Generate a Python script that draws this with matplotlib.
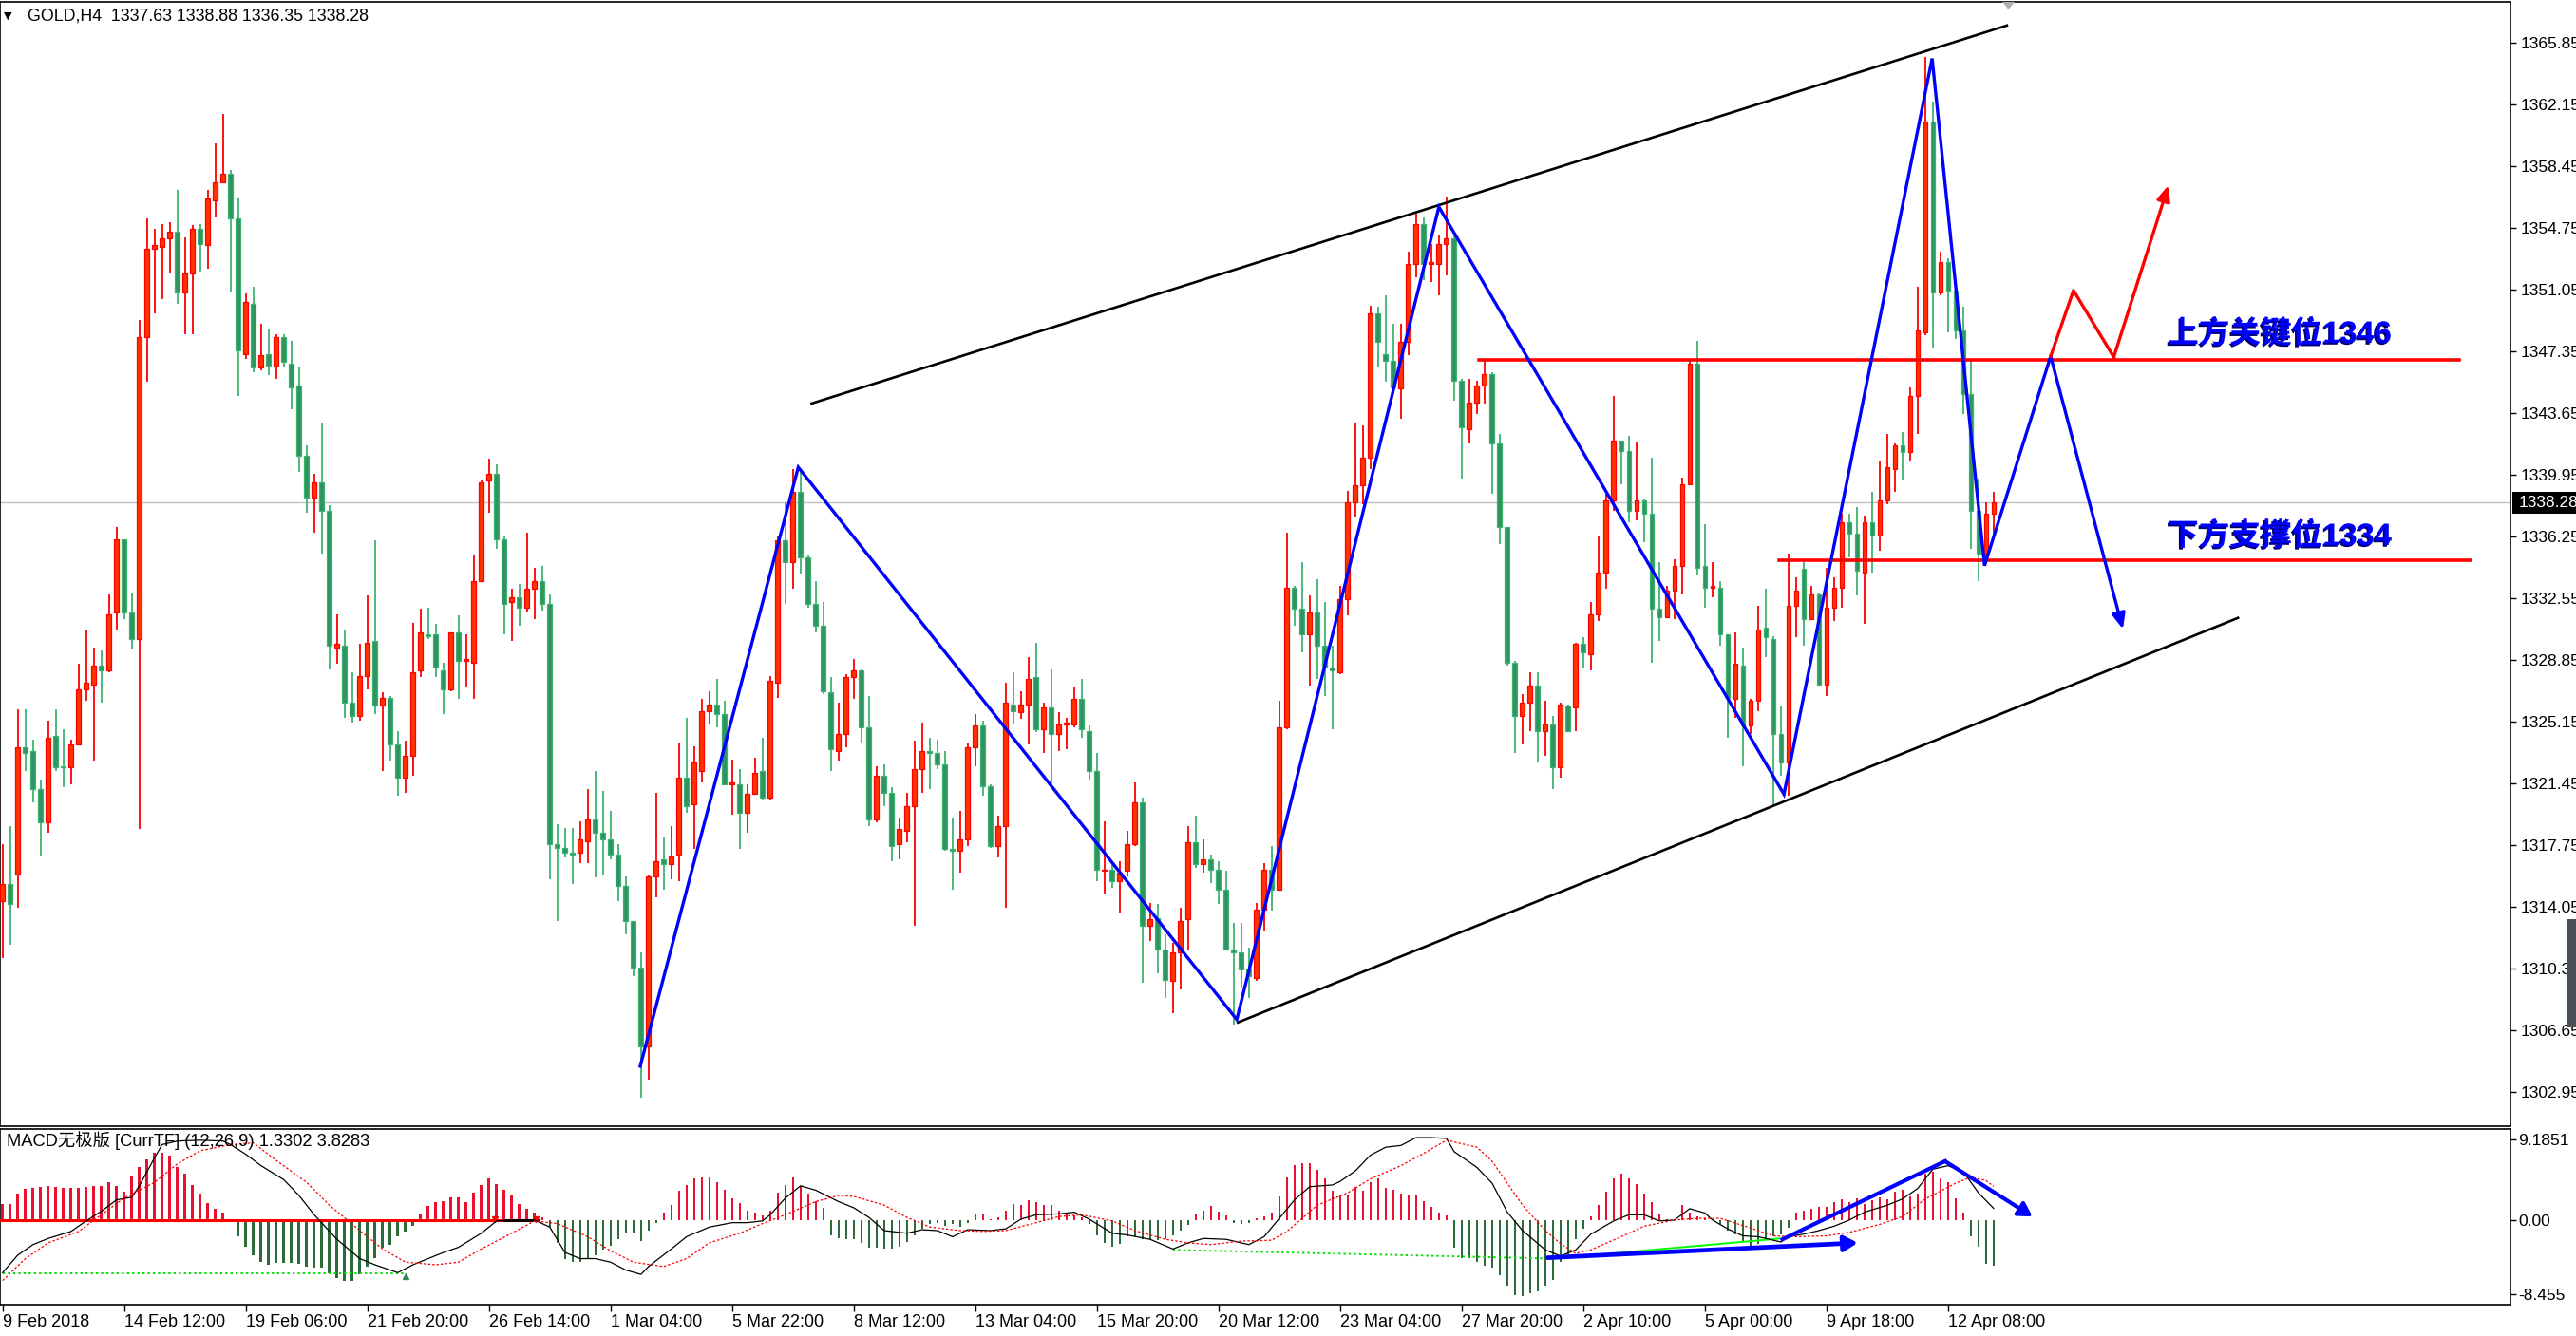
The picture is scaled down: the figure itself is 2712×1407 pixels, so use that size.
import matplotlib
matplotlib.use('Agg')
import matplotlib.pyplot as plt
import matplotlib.patheffects as pe
from matplotlib.patches import Rectangle, Polygon
import numpy as np

plt.rcParams['font.family'] = ['Liberation Sans', 'Noto Sans CJK SC', 'DejaVu Sans']

W, H, DPI = 2712, 1407, 100

# ---------------- data (GOLD H4 candles) ----------------
opens = [1314.4, 1315.4, 1316.0, 1323.6, 1323.4, 1321.1, 1319.1, 1324.3, 1322.5, 1322.4,
         1323.8, 1327.1, 1327.4, 1328.5, 1328.2, 1331.7, 1336.1, 1331.7, 1330.1, 1348.2,
         1353.5, 1353.6, 1354.1, 1354.5, 1350.9, 1352.0, 1354.7, 1353.7, 1356.4, 1357.5,
         1358.0, 1355.3, 1347.2, 1350.2, 1346.4, 1347.2, 1346.5, 1348.2, 1346.6, 1345.3,
         1341.1, 1338.6, 1339.5, 1337.8, 1329.6, 1329.7, 1326.3, 1325.5, 1327.9, 1330.0,
         1326.1, 1326.6, 1323.8, 1321.8, 1323.1, 1328.2, 1330.4, 1330.4, 1328.2, 1327.1,
         1330.5, 1328.8, 1328.7, 1333.6, 1339.6, 1340.0, 1336.1, 1332.3, 1332.6, 1332.0,
         1333.1, 1333.6, 1332.2, 1317.8, 1317.6, 1317.3, 1317.3, 1318.0, 1319.3, 1318.5,
         1318.1, 1317.2, 1315.3, 1313.2, 1310.4, 1305.7, 1315.9, 1316.9, 1316.6, 1317.2,
         1321.8, 1320.2, 1322.2, 1325.8, 1326.2, 1325.6, 1321.4, 1321.4, 1319.7, 1320.8,
         1322.2, 1320.6, 1327.5, 1336.0, 1334.7, 1338.9, 1335.0, 1332.2, 1330.9, 1326.9,
         1323.4, 1324.4, 1327.8, 1328.2, 1324.8, 1319.3, 1321.9, 1320.9, 1317.8, 1318.6,
         1320.1, 1322.3, 1323.4, 1323.3, 1322.6, 1317.5, 1317.4, 1318.1, 1323.6, 1324.9,
         1321.3, 1317.7, 1318.9, 1326.2, 1325.7, 1326.2, 1327.8, 1324.7, 1326.0, 1324.4,
         1325.0, 1325.0, 1326.5, 1324.6, 1322.2, 1316.2, 1316.3, 1315.6, 1316.2, 1317.8,
         1320.3, 1312.9, 1313.4, 1311.5, 1309.6, 1311.3, 1313.3, 1317.9, 1316.6, 1316.9,
         1316.3, 1315.1, 1311.5, 1311.3, 1310.3, 1309.8, 1313.9, 1316.3, 1315.1, 1324.8,
         1333.2, 1331.9, 1330.4, 1331.7, 1329.7, 1328.4, 1328.1, 1332.5, 1338.3, 1339.3,
         1341.0, 1349.6, 1347.2, 1346.8, 1345.1, 1347.9, 1352.6, 1355.0, 1352.6, 1352.6,
         1353.8, 1354.1, 1345.6, 1342.7, 1344.3, 1345.3, 1346.0, 1341.8, 1336.8, 1328.7,
         1325.5, 1326.3, 1327.3, 1324.6, 1325.0, 1322.4, 1326.1, 1326.0, 1329.8, 1329.2,
         1331.6, 1334.1, 1338.4, 1342.0, 1341.4, 1337.8, 1338.4, 1337.6, 1331.9, 1331.4,
         1333.0, 1334.5, 1339.4, 1346.6, 1334.5, 1333.2, 1333.2, 1330.4, 1326.5, 1328.5,
         1324.9, 1326.4, 1330.8, 1330.1, 1324.4, 1322.7, 1332.1, 1334.3, 1331.3, 1332.8,
         1327.4, 1332.0, 1333.2, 1337.1, 1336.4, 1334.1, 1337.1, 1336.3, 1338.4, 1340.3,
         1341.7, 1341.3, 1344.7, 1348.5, 1361.1, 1350.9, 1352.7, 1351.0, 1348.6, 1344.8,
         1337.8, 1335.2, 1337.6]

highs = [1317.8, 1318.9, 1325.9, 1325.9, 1324.1, 1321.7, 1325.2, 1325.9, 1324.7, 1324.1,
         1328.6, 1330.7, 1329.6, 1329.4, 1332.8, 1336.8, 1336.1, 1332.9, 1349.2, 1355.3,
         1354.7, 1355.0, 1355.1, 1357.0, 1354.2, 1354.9, 1355.0, 1357.0, 1359.8, 1361.6,
         1358.2, 1356.5, 1350.8, 1351.2, 1349.0, 1348.7, 1348.4, 1348.4, 1348.0, 1346.4,
         1341.7, 1340.0, 1343.1, 1338.1, 1331.6, 1330.6, 1328.1, 1329.8, 1332.7, 1336.0,
         1326.9, 1326.7, 1324.6, 1324.0, 1331.1, 1331.9, 1332.0, 1331.0, 1328.7, 1330.5,
         1331.5, 1330.4, 1335.1, 1339.6, 1340.9, 1340.6, 1336.3, 1333.1, 1333.4, 1336.5,
         1334.4, 1334.5, 1332.8, 1319.0, 1318.8, 1318.8, 1319.2, 1321.1, 1322.2, 1321.0,
         1319.8, 1317.8, 1315.9, 1313.2, 1311.3, 1316.0, 1320.9, 1318.2, 1318.9, 1323.9,
         1325.4, 1323.7, 1326.5, 1327.0, 1327.7, 1326.4, 1322.9, 1322.3, 1321.4, 1323.0,
         1324.2, 1327.9, 1336.3, 1338.3, 1340.3, 1340.2, 1335.1, 1333.6, 1332.3, 1327.8,
         1326.3, 1328.0, 1328.9, 1328.3, 1326.7, 1322.5, 1322.6, 1321.2, 1319.4, 1320.9,
         1324.0, 1325.1, 1324.2, 1324.1, 1323.4, 1319.4, 1319.8, 1323.9, 1325.6, 1325.2,
         1321.4, 1319.5, 1327.5, 1328.1, 1327.0, 1329.0, 1329.9, 1326.3, 1328.3, 1325.7,
         1325.4, 1327.2, 1327.7, 1324.9, 1323.3, 1319.2, 1316.8, 1316.8, 1318.6, 1321.5,
         1320.6, 1314.3, 1314.2, 1312.4, 1311.9, 1314.0, 1318.9, 1319.5, 1318.1, 1317.2,
         1316.8, 1316.2, 1313.1, 1313.1, 1311.6, 1314.3, 1316.7, 1317.7, 1326.4, 1336.5,
         1333.3, 1334.7, 1332.7, 1333.7, 1332.3, 1329.7, 1333.3, 1339.0, 1343.1, 1342.9,
         1350.1, 1350.0, 1350.7, 1349.0, 1349.0, 1353.3, 1355.6, 1355.4, 1353.8, 1354.3,
         1356.6, 1354.3, 1345.7, 1345.7, 1345.6, 1346.9, 1346.1, 1342.4, 1336.8, 1328.8,
         1326.8, 1328.1, 1328.1, 1326.4, 1325.5, 1326.3, 1326.2, 1329.9, 1330.2, 1332.3,
         1336.3, 1338.8, 1344.7, 1342.0, 1342.3, 1341.9, 1338.5, 1341.0, 1334.7, 1333.3,
         1334.9, 1339.8, 1346.9, 1348.0, 1337.0, 1334.7, 1333.6, 1330.4, 1330.5, 1329.6,
         1326.5, 1332.1, 1333.1, 1330.3, 1326.1, 1335.2, 1333.8, 1334.7, 1333.3, 1332.9,
         1334.4, 1333.8, 1337.6, 1337.6, 1338.0, 1337.5, 1338.9, 1340.8, 1342.4, 1341.8,
         1342.5, 1345.2, 1351.2, 1365.0, 1362.3, 1353.3, 1352.9, 1351.1, 1350.0, 1346.9,
         1339.7, 1338.3, 1338.9]

lows = [1311.0, 1311.8, 1314.0, 1322.2, 1320.3, 1317.1, 1318.5, 1322.2, 1321.2, 1321.4,
        1323.8, 1326.4, 1322.8, 1326.3, 1328.1, 1330.7, 1331.3, 1329.5, 1318.7, 1345.5,
        1349.6, 1350.5, 1352.0, 1350.2, 1348.4, 1348.4, 1352.1, 1352.3, 1355.4, 1357.4,
        1350.9, 1344.7, 1346.9, 1346.1, 1346.2, 1345.9, 1345.7, 1346.4, 1343.9, 1340.1,
        1337.7, 1336.5, 1335.2, 1328.3, 1328.6, 1325.4, 1325.1, 1325.2, 1327.1, 1325.6,
        1322.2, 1322.8, 1320.7, 1320.9, 1321.9, 1327.8, 1330.1, 1327.8, 1325.6, 1327.0,
        1326.5, 1327.2, 1326.5, 1333.5, 1337.7, 1335.5, 1330.4, 1330.0, 1330.9, 1331.7,
        1331.3, 1331.8, 1315.7, 1313.2, 1317.0, 1315.4, 1316.7, 1316.7, 1315.8, 1316.0,
        1316.9, 1314.4, 1312.4, 1309.9, 1302.6, 1303.7, 1314.6, 1315.1, 1315.7, 1315.6,
        1319.7, 1317.5, 1321.5, 1325.0, 1324.8, 1321.4, 1319.6, 1317.5, 1318.5, 1320.8,
        1320.5, 1320.5, 1326.6, 1332.2, 1333.1, 1334.0, 1332.0, 1330.5, 1326.8, 1322.2,
        1322.8, 1323.6, 1326.5, 1323.9, 1318.9, 1319.1, 1320.1, 1316.8, 1316.9, 1317.9,
        1312.9, 1320.9, 1321.1, 1322.3, 1317.4, 1315.1, 1316.1, 1317.7, 1322.5, 1320.7,
        1317.6, 1317.0, 1314.0, 1325.0, 1325.3, 1323.8, 1324.5, 1323.3, 1321.4, 1323.4,
        1323.5, 1324.8, 1324.2, 1321.7, 1315.6, 1314.8, 1315.2, 1313.7, 1315.9, 1317.7,
        1309.5, 1312.0, 1310.1, 1308.6, 1307.7, 1309.1, 1311.5, 1316.4, 1316.1, 1315.5,
        1314.2, 1311.5, 1307.0, 1309.2, 1308.6, 1309.6, 1312.6, 1313.8, 1315.0, 1324.7,
        1330.9, 1329.3, 1327.3, 1327.7, 1326.7, 1324.7, 1328.0, 1331.5, 1337.4, 1338.2,
        1340.3, 1346.4, 1345.5, 1345.2, 1343.3, 1347.1, 1351.8, 1351.6, 1351.5, 1350.7,
        1351.9, 1344.4, 1339.7, 1341.8, 1343.6, 1344.2, 1338.8, 1335.8, 1328.5, 1323.3,
        1323.8, 1324.6, 1322.7, 1323.1, 1321.1, 1321.8, 1324.6, 1324.6, 1328.4, 1328.2,
        1331.2, 1333.1, 1337.8, 1339.4, 1337.1, 1337.2, 1335.9, 1328.7, 1330.0, 1331.4,
        1331.3, 1332.8, 1339.3, 1333.9, 1332.0, 1332.6, 1329.7, 1324.2, 1325.4, 1322.5,
        1324.4, 1325.8, 1329.0, 1320.1, 1321.9, 1320.7, 1330.2, 1329.7, 1331.3, 1327.3,
        1326.7, 1331.2, 1332.0, 1335.0, 1332.7, 1331.0, 1334.1, 1335.4, 1338.2, 1338.9,
        1339.6, 1340.8, 1342.4, 1348.3, 1347.5, 1350.7, 1348.5, 1348.1, 1343.6, 1335.5,
        1333.6, 1334.7, 1336.4]

closes = [1315.4, 1314.2, 1323.6, 1323.3, 1321.1, 1319.1, 1324.2, 1322.4, 1322.4, 1323.8,
          1327.1, 1327.5, 1328.5, 1328.2, 1331.6, 1336.1, 1331.7, 1330.1, 1348.2, 1353.5,
          1353.7, 1354.1, 1354.5, 1350.9, 1352.0, 1354.7, 1353.8, 1356.5, 1357.5, 1358.0,
          1355.3, 1347.4, 1350.3, 1346.4, 1347.1, 1346.5, 1348.2, 1346.7, 1345.2, 1341.1,
          1338.6, 1339.5, 1337.8, 1329.7, 1329.8, 1326.3, 1325.5, 1327.9, 1329.9, 1326.1,
          1326.6, 1323.8, 1321.8, 1323.1, 1328.1, 1330.5, 1330.3, 1328.4, 1327.1, 1330.5,
          1328.8, 1328.9, 1333.6, 1339.5, 1340.0, 1336.1, 1332.2, 1332.6, 1332.0, 1333.1,
          1333.6, 1332.2, 1317.8, 1317.6, 1317.3, 1317.2, 1318.1, 1319.3, 1318.5, 1318.1,
          1317.2, 1315.3, 1313.2, 1310.4, 1305.7, 1315.9, 1316.8, 1316.6, 1317.1, 1321.8,
          1320.1, 1322.7, 1325.8, 1326.2, 1325.6, 1321.4, 1321.5, 1319.7, 1320.8, 1322.1,
          1320.6, 1327.6, 1336.0, 1334.7, 1338.9, 1335.0, 1332.2, 1330.9, 1327.0, 1323.5,
          1324.4, 1327.8, 1328.2, 1324.8, 1319.3, 1321.9, 1320.9, 1317.7, 1318.7, 1320.1,
          1322.3, 1323.4, 1323.3, 1322.6, 1317.5, 1317.4, 1318.1, 1323.6, 1324.9, 1321.3,
          1317.7, 1318.9, 1326.3, 1325.8, 1326.2, 1327.7, 1324.7, 1326.0, 1324.4, 1325.0,
          1325.1, 1326.5, 1324.7, 1322.2, 1316.3, 1316.3, 1315.6, 1316.1, 1317.8, 1320.3,
          1312.9, 1313.3, 1311.5, 1309.7, 1311.3, 1313.2, 1317.9, 1316.6, 1316.9, 1316.3,
          1315.1, 1311.5, 1311.3, 1310.3, 1309.9, 1313.9, 1316.3, 1315.1, 1324.8, 1333.2,
          1331.9, 1330.4, 1331.7, 1329.7, 1328.4, 1328.2, 1332.5, 1338.3, 1339.3, 1341.0,
          1349.6, 1347.9, 1346.8, 1345.2, 1347.9, 1352.6, 1355.0, 1352.6, 1352.7, 1353.8,
          1354.1, 1345.6, 1342.8, 1344.3, 1345.3, 1346.0, 1341.8, 1336.8, 1328.7, 1325.5,
          1326.3, 1327.3, 1324.6, 1325.0, 1322.4, 1326.2, 1324.6, 1329.8, 1329.3, 1331.6,
          1334.1, 1338.4, 1342.0, 1341.4, 1337.8, 1338.4, 1337.6, 1331.9, 1331.4, 1333.0,
          1334.5, 1339.4, 1346.6, 1334.4, 1333.2, 1333.3, 1330.4, 1326.6, 1328.6, 1324.9,
          1326.4, 1330.7, 1330.2, 1324.4, 1322.7, 1332.1, 1333.0, 1331.3, 1332.8, 1327.4,
          1332.0, 1333.2, 1337.1, 1336.4, 1334.2, 1337.1, 1336.3, 1338.4, 1340.4, 1341.7,
          1341.3, 1344.7, 1348.6, 1361.1, 1350.9, 1352.7, 1351.0, 1348.6, 1344.8, 1337.8,
          1335.2, 1337.6, 1338.3]

# MACD histogram (one value per bar)
macd_hist = [1.8, 1.8, 3.0, 3.6, 3.7, 3.8, 3.9, 3.8, 3.7, 3.7, 3.7, 3.8, 3.9, 3.9, 4.3, 3.9,
             3.2, 5.0, 6.1, 6.9, 7.7, 7.7, 7.3, 6.1, 5.3, 4.0, 3.0, 1.9, 1.3, 0.8, 0.1,
             -1.9, -3.0, -4.0, -4.8, -5.1, -4.9, -4.9, -4.9, -5.0, -5.3, -5.4, -5.4, -6.1,
             -6.6, -6.9, -6.9, -6.2, -5.3, -4.3, -3.2, -2.8, -1.9, -1.3, -0.7,
             0.6, 1.6, 2.0, 2.1, 2.6, 2.6, 2.0, 3.1, 4.0, 4.7, 4.1, 3.5, 2.8, 1.8, 1.3, 0.8, 0.3,
             -0.8, -2.6, -4.4, -4.8, -4.8, -4.3, -4.0, -3.4, -2.9, -2.2, -1.4, -1.4, -2.4, -1.2, -0.3,
             0.8, 1.7, 3.3, 4.0, 4.8, 4.9, 4.9, 4.3, 3.4, 2.5, 1.9, 1.1, 0.8, 0.5, 1.1, 3.1, 4.0,
             4.9, 3.9, 3.0, 2.1, 1.4,
             -1.7, -2.1, -2.2, -2.2, -2.6, -3.2, -3.2, -3.3, -3.3, -3.0, -2.5, -1.7, -1.0, -0.4,
             -0.3, -0.7, -0.4, -0.8, -0.3,
             0.6, 0.6, 0.1, 0.3, 1.1, 1.8, 1.7, 2.3, 2.0, 1.7, 1.7, 1.1, 0.8, 0.5, 0.3,
             -0.4, -1.7, -2.6, -3.0, -2.7, -1.8, -1.8, -2.2, -2.2, -2.3, -2.2, -1.7, -1.2, -0.6,
             0.6, 1.1, 1.6, 1.0, 0.5, -0.3, -0.5, -0.3, 0.2,
             0.4, 0.9, 2.7, 4.9, 6.3, 6.5, 6.5, 5.7, 4.7, 3.3, 2.9, 2.9, 3.8, 3.3, 4.3, 4.8, 3.7,
             3.5, 3.0, 2.9, 2.9, 2.1, 1.5, 0.9, 0.5,
             -3.2, -4.3, -4.3, -4.8, -5.2, -5.4, -6.3, -7.5, -8.6, -8.7, -8.4, -8.1, -7.5, -6.8,
             -4.8, -4.2, -2.2, -1.0,
             0.4, 1.7, 3.2, 4.8, 5.3, 4.8, 4.1, 3.0, 2.0, 0.6, 0.1, 0.05, 1.7, 0.8, 0.4, 0.2, 0.1,
             -0.5, -1.2, -1.6, -2.4, -3.4, -2.7, -2.3, -1.9, -1.6, -0.9,
             0.8, 1.1, 1.3, 1.5, 1.5, 2.0, 2.4, 2.0, 2.5, 1.8, 2.3, 2.6, 2.4, 3.2, 3.5, 2.7, 3.0,
             5.3, 5.5, 4.7, 4.3, 2.5, 0.8,
             -1.8, -3.0, -5.0, -5.2]

# MACD main line (bar index, value)
macd_line = [(0, -6.0), (2, -4.0), (4, -2.8), (6, -2.1), (9, -1.3), (11, -0.1), (13, 1.0),
             (15, 2.3), (17, 2.6), (18, 3.9), (20, 7.1), (21, 8.6), (23, 9.0), (26, 9.1),
             (29, 9.0), (30, 8.6), (32, 7.5), (34, 6.2), (37, 4.6), (39, 2.8), (41, 0.6),
             (44, -2.2), (47, -4.4), (49, -5.1), (52, -6.0), (54, -5.1), (56, -4.4), (58, -3.7),
             (60, -3.1), (63, -1.5), (65, -0.1), (67, 0.0), (70, 0.0), (72, -0.8), (74, -3.7),
             (76, -4.4), (78, -4.4), (80, -4.8), (82, -5.7), (84, -6.2), (85, -5.3), (88, -3.3),
             (90, -1.9), (93, -0.8), (96, -0.3), (98, -0.3), (100, -0.1), (101, 0.6), (103, 2.5),
             (105, 3.9), (107, 3.4), (110, 2.1), (112, 1.4), (114, 0.3), (116, -1.2), (119, -1.5),
             (121, -1.1), (123, -1.2), (125, -1.9), (127, -1.1), (130, -1.2), (132, -1.0),
             (134, 0.1), (136, 0.6), (139, 0.7), (141, 0.9), (143, 0.1), (146, -1.5), (148, -1.7),
             (151, -2.2), (154, -3.3), (156, -2.6), (158, -2.1), (161, -2.2), (164, -2.8),
             (166, -1.9), (168, 0.2), (170, 2.3), (172, 3.8), (175, 4.0), (176, 4.4), (178, 5.6),
             (180, 7.4), (182, 8.3), (184, 8.5), (186, 9.4), (188, 9.4), (190, 9.3), (191, 7.8),
             (194, 6.0), (196, 4.2), (198, 0.9), (200, -1.2), (203, -3.4), (205, -4.1),
             (207, -3.4), (209, -1.6), (212, -0.1), (214, 0.6), (216, 0.6), (218, -0.1),
             (220, 0.0), (222, 1.3), (224, 0.8), (225, 0.0), (227, -1.0), (229, -1.8),
             (231, -1.9), (234, -2.5), (235, -1.9), (237, -1.6), (239, -1.2), (241, -0.7),
             (243, 0.0), (245, 0.9), (248, 1.7), (250, 2.4), (252, 3.6), (254, 5.8), (256, 6.2),
             (258, 5.5), (260, 3.1), (262, 1.33)]

# MACD signal line (bar index, value)
macd_signal = [(0, -6.9), (3, -4.4), (6, -2.6), (10, -1.3), (13, 0.6), (16, 2.5), (20, 4.3),
               (23, 6.4), (26, 7.9), (30, 8.6), (33, 8.8), (36, 6.8), (40, 4.3), (43, 1.7),
               (47, -1.2), (50, -3.3), (53, -4.8), (57, -5.1), (60, -4.8), (63, -3.3),
               (67, -1.5), (70, -0.1), (73, -0.4), (77, -1.9), (80, -3.5), (83, -4.8),
               (87, -5.3), (90, -4.4), (93, -2.6), (97, -1.5), (100, -0.4), (103, 0.6),
               (107, 2.1), (110, 2.8), (112, 2.7), (116, 1.7), (119, 0.3), (122, -0.8),
               (126, -1.2), (129, -1.3), (132, -1.2), (136, -0.3), (139, 0.4), (142, 0.6),
               (146, -0.1), (149, -1.2), (153, -2.2), (156, -2.6), (159, -2.8), (163, -2.4),
               (167, -2.3), (169, -1.3), (171, 0.2), (173, 1.7), (177, 3.1), (180, 4.7),
               (184, 6.2), (187, 7.6), (190, 9.1), (194, 8.3), (196, 6.7), (198, 4.2),
               (200, 1.7), (203, -1.2), (205, -2.7), (207, -3.8), (209, -3.4), (213, -1.9),
               (216, -0.7), (220, 0.0), (223, 0.2), (226, 0.2), (230, -0.9), (233, -1.8),
               (236, -1.9), (240, -1.8), (243, -1.4), (247, -0.5), (250, 0.4), (253, 2.4),
               (257, 4.2), (259, 4.9), (261, 4.5), (262, 3.83)]

x_labels = ['9 Feb 2018', '14 Feb 12:00', '19 Feb 06:00', '21 Feb 20:00', '26 Feb 14:00',
            '1 Mar 04:00', '5 Mar 22:00', '8 Mar 12:00', '13 Mar 04:00', '15 Mar 20:00',
            '20 Mar 12:00', '23 Mar 04:00', '27 Mar 20:00', '2 Apr 10:00', '5 Apr 00:00',
            '9 Apr 18:00', '12 Apr 08:00']
x_label_bars = [0, 16, 32, 48, 64, 80, 96, 112, 128, 144, 160, 176, 192, 208, 224, 240, 256]

price_ticks = [1365.85, 1362.15, 1358.45, 1354.75, 1351.05, 1347.35, 1343.65, 1339.95,
               1336.25, 1332.55, 1328.85, 1325.15, 1321.45, 1317.75, 1314.05, 1310.35,
               1306.65, 1302.95]
macd_ticks = [9.1851, 0.0, -8.455]
macd_tick_labels = ['9.1851', '0.00', '-8.455']

current_price = 1338.28
header = 'GOLD,H4  1337.63 1338.88 1336.35 1338.28'
macd_title = 'MACD无极版 [CurrTF] (12,26,9) 1.3302 3.8283'

# drawn analysis objects (bar index, price)
upper_channel = [(106.3, 1344.2), (263.9, 1366.9)]
lower_channel = [(162.4, 1307.1), (294.3, 1331.4)]
zigzag = [(83.9, 1304.5), (104.7, 1340.4), (162.4, 1307.3), (189.0, 1356.0),
          (234.4, 1320.8), (253.9, 1364.9), (260.8, 1334.5), (269.5, 1347.05)]
zigzag_arrow_end = (279.0, 1330.7)
red_path = [(269.5, 1347.05), (272.5, 1351.0), (277.8, 1347.0)]
red_arrow_end = (285.0, 1357.3)
resistance = (1346.85, 194.3, 323.3)
support = (1334.85, 233.7, 324.8)
label_res = '上方关键位1346'
label_sup = '下方支撑位1334'

macd_green_dotted = [[(0, -6.1), (53, -6.1)], [(154, -3.4), (204, -4.4)]]
macd_green_solid = [(204, -4.4), (234, -2.1)]
macd_blue_arrow1 = [(203.3, -4.3), (244.1, -2.6)]
macd_blue_path2 = [(234.2, -2.2), (255.6, 6.7)]
macd_blue_arrow2_end = (267.1, 0.4)

# ---------------- layout ----------------
fig = plt.figure(figsize=(W / DPI, H / DPI), dpi=DPI, facecolor='white')


def rect_px(x0, y0, x1, y1):
    return [x0 / W, 1 - y1 / H, (x1 - x0) / W, (y1 - y0) / H]


ax = fig.add_axes(rect_px(0, 2, 2643, 1186))
am = fig.add_axes(rect_px(0, 1189, 2643, 1374))

XMIN, XMAX = -0.34, 330.0
ax.set_xlim(XMIN, XMAX)
ax.set_ylim(1300.91, 1368.29)
am.set_xlim(XMIN, XMAX)
am.set_ylim(-9.645, 10.376)

for a in (ax, am):
    for s in a.spines.values():
        s.set_color('black')
        s.set_linewidth(1.2)
    a.set_facecolor('white')

# ---------------- candles ----------------
o = np.array(opens)
c = np.array(closes)
hi = np.array(highs)
lo = np.array(lows)
bars = np.arange(len(o))
up = c >= o
BULL_FACE, BULL_EDGE = '#FF3300', '#FF0000'
BEAR_FACE, BEAR_EDGE = '#2E9460', '#3CB371'

ax.axhline(current_price, color='#C0C0C0', lw=1.0, zorder=1)

ax.vlines(bars[up], lo[up], hi[up], color=BULL_EDGE, lw=1.3, zorder=2)
ax.vlines(bars[~up], lo[~up], hi[~up], color=BEAR_EDGE, lw=1.3, zorder=2)
body = np.maximum(np.abs(c - o), 0.06)
bot = np.minimum(o, c)
ax.bar(bars[up], body[up], bottom=bot[up], width=0.6, color=BULL_FACE,
       edgecolor=BULL_EDGE, lw=0.9, zorder=3)
ax.bar(bars[~up], body[~up], bottom=bot[~up], width=0.6, color=BEAR_FACE,
       edgecolor=BEAR_EDGE, lw=0.9, zorder=3)

# ---------------- drawings ----------------
ux, uy = zip(*upper_channel)
ax.plot(ux, uy, color='black', lw=1.9, zorder=4, solid_capstyle='butt')
lx, ly = zip(*lower_channel)
ax.plot(lx, ly, color='black', lw=1.9, zorder=4, solid_capstyle='butt')

ax.plot([resistance[1], resistance[2]], [resistance[0]] * 2, color='#FF0000', lw=2.6, zorder=4)
ax.plot([support[1], support[2]], [support[0]] * 2, color='#FF0000', lw=2.6, zorder=4)

zx, zy = zip(*zigzag)
ax.plot(zx, zy, color='#0000FF', lw=2.4, zorder=5, solid_joinstyle='miter')
ax.annotate('', xy=zigzag_arrow_end, xytext=zigzag[-1],
            arrowprops=dict(arrowstyle='-|>,head_length=0.7,head_width=0.3', color='#0000FF',
                            lw=2.4, shrinkA=0, shrinkB=0, mutation_scale=14), zorder=5)

rx, ry = zip(*red_path)
ax.plot(rx, ry, color='#FF0000', lw=2.4, zorder=5)
ax.annotate('', xy=red_arrow_end, xytext=red_path[-1],
            arrowprops=dict(arrowstyle='-|>,head_length=0.7,head_width=0.3', color='#FF0000',
                            lw=2.4, shrinkA=0, shrinkB=0, mutation_scale=14), zorder=5)

shadow = [pe.SimplePatchShadow(offset=(-1.3, -1.3), shadow_rgbFace='#000070', alpha=1.0), pe.Normal()]
ax.text(284.9, 1348.37, label_res, color='#0000FF', fontsize=23.5, fontweight='bold',
        ha='left', va='center', zorder=6, path_effects=shadow,
        family=['Liberation Sans', 'Noto Sans CJK SC'])
ax.text(284.9, 1336.25, label_sup, color='#0000FF', fontsize=23.5, fontweight='bold',
        ha='left', va='center', zorder=6, path_effects=shadow,
        family=['Liberation Sans', 'Noto Sans CJK SC'])

# ---------------- axes ticks ----------------
ax.set_xticks([])
ax.yaxis.tick_right()
ax.set_yticks(price_ticks)
ax.set_yticklabels(['%.2f' % v for v in price_ticks])
ax.tick_params(axis='y', direction='out', length=4.5, width=1.0, pad=3.0,
               labelsize=12.5, colors='black')

# ---------------- MACD panel ----------------
hv = np.array(macd_hist)
hb = np.arange(len(hv))
am.bar(hb[hv >= 0], hv[hv >= 0], width=0.32, color='#E8102E', zorder=2)
am.bar(hb[hv < 0], hv[hv < 0], width=0.32, color='#2C6B3A', zorder=2)

am.plot([XMIN, 70.5], [0, 0], color='#FF0000', lw=2.2, zorder=3)
am.plot([66, 70.5], [0, 0], color='black', lw=2.0, zorder=3)
am.plot([64.8, 70.2], [0.05, 0.05], 'v', color='#FF0000', ms=5, zorder=4)

for seg in macd_green_dotted:
    gx, gy = zip(*seg)
    am.plot(gx, gy, color='#00E000', lw=1.4, ls=(0, (1.2, 1.6)), zorder=3)
gx, gy = zip(*macd_green_solid)
am.plot(gx, gy, color='#00FF00', lw=1.4, zorder=3)
am.plot([53], [-6.4], '^', color='#2E8B57', ms=5, zorder=4)

mx, mv = zip(*macd_line)
am.plot(mx, mv, color='black', lw=0.9, zorder=4)
sx, sv = zip(*macd_signal)
am.plot(sx, sv, color='#FF0000', lw=0.9, ls=(0, (2.0, 1.6)), zorder=4)

am.annotate('', xy=macd_blue_arrow1[1], xytext=macd_blue_arrow1[0],
            arrowprops=dict(arrowstyle='-|>,head_length=0.6,head_width=0.35', color='#0000FF',
                            lw=3.4, shrinkA=0, shrinkB=0, mutation_scale=14), zorder=5)
b2x, b2y = zip(*macd_blue_path2)
am.plot(b2x, b2y, color='#0000FF', lw=3.0, zorder=5)
am.annotate('', xy=macd_blue_arrow2_end, xytext=macd_blue_path2[-1],
            arrowprops=dict(arrowstyle='-|>,head_length=0.6,head_width=0.35', color='#0000FF',
                            lw=3.0, shrinkA=0, shrinkB=0, mutation_scale=14), zorder=5)

am.yaxis.tick_right()
am.set_yticks(macd_ticks)
am.set_yticklabels(macd_tick_labels)
am.tick_params(axis='y', direction='out', length=4.5, width=1.0, pad=1.5,
               labelsize=12.5, colors='black')
am.set_xticks(x_label_bars)
am.set_xticklabels(x_labels)
am.tick_params(axis='x', direction='out', length=5, width=1.0, pad=2.5,
               labelsize=13, colors='black')
for t in am.get_xticklabels():
    t.set_horizontalalignment('left')

# ---------------- header / labels ----------------
fig.text(4 / W, 1 - 17 / H, '▼', fontsize=8, family='DejaVu Sans', va='center', ha='left')
fig.text(29 / W, 1 - 17 / H, header, fontsize=12.8, va='center', ha='left')
fig.text(7 / W, 1 - 1201 / H, macd_title, fontsize=13.2, va='center', ha='left',
         family=['Liberation Sans', 'Noto Sans CJK SC'], zorder=10)

# current price tag
fig.add_artist(Rectangle((2645 / W, 1 - 541 / H), 70 / W, 23 / H, transform=fig.transFigure,
                         facecolor='black', edgecolor='none', zorder=10))
fig.text(2652 / W, 1 - 529.5 / H, '%.2f' % current_price, color='white', fontsize=12.5,
         va='center', ha='left', zorder=11)

# chart-shift marker and side widget
fig.add_artist(Polygon([(2108 / W, 1 - 2 / H), (2121 / W, 1 - 2 / H), (2114.5 / W, 1 - 10 / H)],
                       closed=True, transform=fig.transFigure, facecolor='#B0B0B0',
                       edgecolor='none', zorder=10))
fig.add_artist(Rectangle((2703 / W, 1 - 1082 / H), 12 / W, 114 / H, transform=fig.transFigure,
                         facecolor='#4A4E57', edgecolor='none', zorder=10))

fig.savefig('out.png', dpi=DPI, facecolor='white')
